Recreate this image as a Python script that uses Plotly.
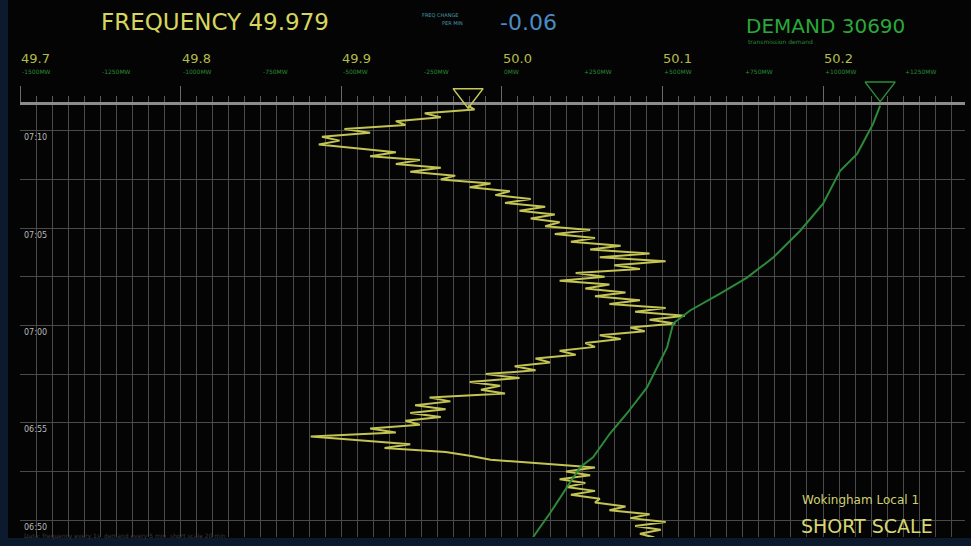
import plotly.graph_objects as go

# ---------------- data ----------------
# time in minutes after 06:00 (top of chart = now)
freq_time = [71.3, 71.1, 70.9, 70.7, 70.5, 70.3, 70.1, 69.9, 69.7, 69.5, 69.3, 69.1, 68.9, 68.7, 68.5,
             68.3, 68.1, 67.9, 67.7, 67.5, 67.3, 67.1, 66.9, 66.7, 66.5, 66.3, 66.1, 65.9, 65.7, 65.5,
             65.3, 65.1, 64.9, 64.7, 64.5, 64.3, 64.1, 63.9, 63.7, 63.5, 63.3, 63.1, 62.9, 62.7, 62.5,
             62.3, 62.1, 61.9, 61.7, 61.5, 61.3, 61.1, 60.9, 60.7, 60.5, 60.3, 60.1, 59.9, 59.7, 59.5,
             59.3, 59.1, 58.9, 58.7, 58.5, 58.3, 58.1, 57.9, 57.7, 57.5, 57.3, 57.1, 56.9, 56.7, 56.5,
             56.3, 56.1, 55.9, 55.7, 55.5, 55.3, 55.1, 54.9, 54.7, 54.5, 54.3, 54.1, 53.9, 53.7, 53.5,
             53.3, 53.1, 52.9, 52.7, 52.5, 52.3, 52.1, 51.9, 51.7, 51.5, 51.3, 51.1, 50.9, 50.7, 50.5,
             50.3, 50.1, 49.9, 49.7, 49.5, 49.3, 49.1]
freq_hz = [49.979, 49.983, 49.952, 49.962, 49.934, 49.940, 49.902, 49.918, 49.888, 49.899, 49.886,
           49.912, 49.934, 49.918, 49.949, 49.934, 49.962, 49.943, 49.971, 49.962, 49.993, 49.980,
           50.005, 49.996, 50.018, 50.002, 50.027, 50.011, 50.033, 50.018, 50.036, 50.027, 50.055,
           50.033, 50.058, 50.043, 50.074, 50.055, 50.092, 50.061, 50.102, 50.070, 50.086, 50.046,
           50.064, 50.036, 50.067, 50.052, 50.077, 50.058, 50.086, 50.067, 50.102, 50.083, 50.114,
           50.092, 50.108, 50.080, 50.089, 50.061, 50.074, 50.052, 50.058, 50.036, 50.046, 50.021,
           50.030, 50.008, 50.021, 49.990, 50.011, 49.980, 49.999, 49.987, 50.002, 49.955, 49.968,
           49.946, 49.965, 49.943, 49.962, 49.940, 49.949, 49.918, 49.934, 49.881, 49.912, 49.943,
           49.927, 49.965, 49.980, 49.993, 50.027, 50.058, 50.040, 50.055, 50.036, 50.052, 50.040,
           50.058, 50.043, 50.061, 50.058, 50.077, 50.067, 50.092, 50.080, 50.102, 50.083, 50.099,
           50.086, 50.095]

demand_time = [71.3, 70.36, 68.82, 67.95, 66.26, 64.87, 63.49, 62.46, 61.64, 60.77, 60.10, 58.87,
               56.82, 55.49, 54.46, 53.23, 52.72, 50.36, 49.13]
demand_mw = [30690, 30635, 30511, 30379, 30246, 30068, 29858, 29655, 29445, 29212, 29080, 29033,
             28877, 28722, 28590, 28457, 28356, 28123, 27991]

current_freq = 49.979
current_demand = 30690
freq_change = "-0.06"

freq_major = [49.7, 49.8, 49.9, 50.0, 50.1, 50.2]
freq_major_labels = ["49.7", "49.8", "49.9", "50.0", "50.1", "50.2"]
freq_half = [49.7, 49.75, 49.8, 49.85, 49.9, 49.95, 50.0, 50.05, 50.1, 50.15, 50.2, 50.25]
freq_half_labels = ["-1500MW", "-1250MW", "-1000MW", "-750MW", "-500MW", "-250MW",
                    "0MW", "+250MW", "+500MW", "+750MW", "+1000MW", "+1250MW"]

time_ticks = [70, 65, 60, 55, 50]
time_labels = ["07:10", "07:05", "07:00", "06:55", "06:50"]

# ---------------- layout geometry (pixels) ----------------
W, H = 971, 546
L, R, T, B = 20, 6, 64, 9          # outer margins
MAIN_TOP = 105                      # top line of the main chart
pw, ph = W - L - R, H - T - B


def px_x(x):
    return (x - L) / pw


def px_y(y):
    return (H - B - y) / ph


main_dom_top = px_y(MAIN_TOP)

BG = "#040404"
GRID = "#4a4a4a"
FONT = "DejaVu Sans"
YEL = "#c4c454"
GRN = "#2c8a3a"

fig = go.Figure()

fig.add_trace(go.Scatter(
    x=demand_mw, y=demand_time, xaxis="x2", yaxis="y", mode="lines",
    line=dict(color=GRN, width=2), hoverinfo="skip"))

fig.add_trace(go.Scatter(
    x=freq_hz, y=freq_time, mode="lines",
    line=dict(color=YEL, width=2), hoverinfo="skip"))

# current value pointers in the strip above the chart
fig.add_trace(go.Scatter(
    x=[current_freq], y=[0.24], xaxis="x3", yaxis="y3", mode="markers", cliponaxis=False,
    marker=dict(symbol="triangle-down-open", size=26, color="#c8c858",
                line=dict(width=1.5, color="#c8c858")), hoverinfo="skip"))
fig.add_trace(go.Scatter(
    x=[current_demand], y=[0.40], xaxis="x4", yaxis="y3", mode="markers", cliponaxis=False,
    marker=dict(symbol="triangle-down-open", size=26, color=GRN,
                line=dict(width=1.5, color=GRN)), hoverinfo="skip"))

annotations = []
for v, t in zip(freq_major, freq_major_labels):
    annotations.append(dict(x=v, y=px_y(58), xref="x", yref="paper", xanchor="left",
                            xshift=-1, yanchor="middle", showarrow=False, text=t,
                            font=dict(family=FONT, size=13, color="#b4bc48")))
for v, t in zip(freq_half, freq_half_labels):
    annotations.append(dict(x=v, y=px_y(72), xref="x", yref="paper", xanchor="left",
                            yanchor="middle", showarrow=False, text=t,
                            font=dict(family=FONT, size=6, color="#2a8a34")))
for v, t in zip(time_ticks, time_labels):
    annotations.append(dict(x=0, y=v, xref="paper", yref="y", xshift=2, yshift=-7,
                            xanchor="left", yanchor="middle", showarrow=False, text=t,
                            font=dict(family=FONT, size=8, color="#b8b8b8")))


def txt(x, y, s, size, color):
    return dict(x=px_x(x), y=px_y(y), xref="paper", yref="paper", text=s, showarrow=False,
                xanchor="left", yanchor="middle", font=dict(family=FONT, size=size, color=color))


annotations += [
    txt(99, 22, "FREQUENCY " + f"{current_freq:.3f}", 23, "#d6d65e"),
    txt(420, 15, "FREQ CHANGE", 5, "#4a9aa8"),
    txt(440, 23, "PER MIN", 5, "#4a9aa8"),
    txt(498, 23, freq_change, 22, "#4a8cc4"),
    txt(744, 26, "DEMAND " + str(current_demand), 20, "#2aa83a"),
    txt(746, 42, "transmission demand", 6, "#2a8a34"),
    txt(800, 500, "Wokingham Local 1", 12, "#d0d070"),
    txt(799, 526, "SHORT SCALE", 19, "#d6d672"),
    txt(22, 536, "Data: frequency every 1s  demand every 5 min  short scale 20 min", 6, "#3a3a3a"),
]

shapes = [
    # navy frame on left and bottom edges
    dict(type="rect", xref="paper", yref="paper", x0=px_x(0), x1=px_x(8), y0=px_y(H),
         y1=px_y(0), fillcolor="#0c1a2e", line=dict(width=0), layer="below"),
    dict(type="rect", xref="paper", yref="paper", x0=px_x(0), x1=px_x(W), y0=px_y(H),
         y1=px_y(538), fillcolor="#0c1a2e", line=dict(width=0), layer="below"),
]

fig.update_layout(
    width=W, height=H,
    margin=dict(l=L, r=R, t=T, b=B, pad=0),
    paper_bgcolor=BG, plot_bgcolor=BG,
    showlegend=False,
    font=dict(family=FONT),
    xaxis=dict(range=[49.7, 50.2884], side="top", anchor="y", showticklabels=False,
               tick0=49.7, dtick=0.1, ticks="outside", ticklen=16, tickcolor="#6a6a6a",
               tickwidth=1, showgrid=True, gridcolor=GRID, gridwidth=1,
               minor=dict(dtick=0.01, tick0=49.7, ticks="outside", ticklen=6,
                          tickcolor="#5a5a5a", showgrid=True, gridcolor=GRID, gridwidth=1),
               showline=True, linecolor="#8c8c8c", linewidth=3, zeroline=False),
    xaxis2=dict(range=[24000, 31350], overlaying="x", side="top", visible=False),
    yaxis=dict(domain=[0, main_dom_top], range=[49.13, 71.33], showticklabels=False,
               tick0=50, dtick=2.5, showgrid=True, gridcolor=GRID, gridwidth=1,
               zeroline=False, ticks=""),
    xaxis3=dict(range=[49.7, 50.2884], anchor="y3", visible=False, showgrid=False),
    xaxis4=dict(range=[24000, 31350], overlaying="x3", anchor="y3", visible=False,
                showgrid=False),
    yaxis3=dict(domain=[main_dom_top, 1], range=[0, 1], anchor="x3", visible=False,
                showgrid=False),
    annotations=annotations,
    shapes=shapes,
)

fig.write_html("out.html",
               config={"displayModeBar": False},
               post_script="document.body.style.margin='0';"
                           "document.body.style.background='#040404';")
